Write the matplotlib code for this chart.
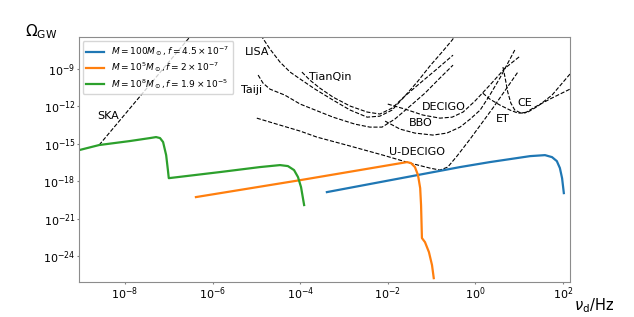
import numpy as np
import matplotlib
matplotlib.use("Agg")
import matplotlib.pyplot as plt
from matplotlib.ticker import NullLocator

# all curves stored as log10(frequency / Hz), log10(Omega_GW)

# PBH signals
green_lf = [-9.05, -8.59, -7.89, -7.43, -7.29, -7.20, -7.13, -7.06, -7.02, -7.00,
            -5.83, -4.92, -4.46, -4.28, -4.14, -4.05, -3.98, -3.91]
green_lo = [-15.51, -15.10, -14.78, -14.54, -14.46, -14.54, -14.86, -15.91, -17.11, -17.76,
            -17.27, -16.87, -16.71, -16.79, -17.11, -17.67, -18.48, -19.92]

orange_lf = [-6.38, -4.00, -1.56, -1.47, -1.38, -1.31, -1.26, -1.24, -1.22, -1.15,
             -1.06, -0.99, -0.95]
orange_lo = [-19.28, -17.92, -16.47, -16.55, -16.87, -17.51, -18.56, -19.92, -22.57, -22.90,
             -23.70, -24.74, -25.79]

blue_lf = [-3.39, -0.35, 0.33, 1.25, 1.59, 1.75, 1.86, 1.93, 1.98, 2.02]
blue_lo = [-18.88, -16.87, -16.47, -15.99, -15.91, -16.07, -16.39, -16.95, -17.76, -18.96]

labels = [r'$M=100M_\odot, f=4.5\times10^{-7}$',
          r'$M=10^5M_\odot, f=2\times10^{-7}$',
          r'$M=10^8M_\odot, f=1.9\times10^{-5}$']

# detector sensitivity curves
ska_lf = [-8.59, -6.30]
ska_lo = [-15.10, -5.50]

lisa_lf = [-4.96, -4.87, -4.69, -4.46, -4.23, -4.00, -3.66, -3.25, -2.86, -2.47,
           -2.18, -1.90, -1.61, -1.31, -1.04, -0.76, -0.53, -0.42]
lisa_lo = [-5.87, -6.43, -7.39, -8.44, -9.24, -9.80, -10.61, -11.49, -12.29, -12.86,
           -12.78, -12.29, -11.17, -9.96, -8.76, -7.63, -6.67, -6.11]

tianqin_lf = [-3.96, -3.78, -3.55, -3.25, -2.86, -2.47, -2.18, -1.90, -1.61, -1.26, -0.88, -0.51]
tianqin_lo = [-9.24, -9.88, -10.53, -11.25, -11.97, -12.45, -12.61, -12.13, -11.17, -10.12, -9.00, -7.88]

taiji_lf = [-4.96, -4.85, -4.69, -4.35, -4.00, -3.25, -2.75, -2.41, -2.13, -1.84,
            -1.49, -1.15, -0.81, -0.51]
taiji_lo = [-9.48, -10.12, -10.61, -11.09, -11.81, -12.86, -13.42, -13.66, -13.66, -13.02,
            -11.97, -10.93, -9.72, -8.68]

udecigo_lf = [-4.99, -4.46, -4.00, -3.62, -2.86, -2.11, -1.49, -1.04, -0.81, -0.63,
              -0.42, -0.12, 0.40, 0.97]
udecigo_lo = [-12.94, -13.50, -13.98, -14.46, -15.18, -15.91, -16.55, -16.95, -17.11, -16.87,
              -15.99, -14.62, -12.13, -9.24]

decigo_lf = [-2.00, -1.61, -1.20, -0.81, -0.53, -0.28, -0.01, 0.33, 0.68, 1.02]
decigo_lo = [-11.81, -12.21, -12.69, -12.94, -12.86, -12.45, -11.57, -10.29, -8.92, -7.96]

bbo_lf = [-2.06, -1.72, -1.38, -0.97, -0.65, -0.35, -0.12, 0.11, 0.33, 0.56, 0.90]
bbo_lo = [-13.18, -13.82, -14.14, -14.30, -14.14, -13.66, -13.02, -12.29, -11.09, -9.72, -7.47]

et_lf = [0.17, 0.33, 0.56, 0.79, 0.97, 1.13, 1.36, 1.70, 2.16]
et_lo = [-10.93, -11.41, -11.89, -12.29, -12.53, -12.53, -12.05, -11.41, -10.61]

ce_lf = [0.63, 0.68, 0.74, 0.81, 0.90, 1.04, 1.20, 1.43, 1.75, 2.16]
ce_lo = [-8.84, -9.72, -10.85, -11.73, -12.29, -12.53, -12.45, -11.97, -11.09, -9.40]

detectors = [(ska_lf, ska_lo), (lisa_lf, lisa_lo), (tianqin_lf, tianqin_lo),
             (taiji_lf, taiji_lo), (udecigo_lf, udecigo_lo), (decigo_lf, decigo_lo),
             (bbo_lf, bbo_lo), (et_lf, et_lo), (ce_lf, ce_lo)]

# detector names with label position (log10 f, log10 Omega)
det_names = ['SKA', 'LISA', 'Taiji', 'TianQin', 'DECIGO', 'BBO', 'ET', 'CE', 'U-DECIGO']
name_lf = [-8.39, -4.99, -5.10, -3.32, -0.72, -1.24, 0.63, 1.13, -1.33]
name_lo = [-12.78, -7.63, -10.69, -9.64, -12.05, -13.34, -13.02, -11.73, -15.67]


fig = plt.figure(figsize=(6.34, 3.17), dpi=100)
ax = fig.add_axes([0.1246, 0.110, 0.7744, 0.773])

for lf, lo in detectors:
    ax.plot(10**np.array(lf), 10**np.array(lo), '--', color='black', lw=0.8)

ax.plot(10**np.array(blue_lf), 10**np.array(blue_lo), color='tab:blue', lw=1.6, label=labels[0])
ax.plot(10**np.array(orange_lf), 10**np.array(orange_lo), color='tab:orange', lw=1.6, label=labels[1])
ax.plot(10**np.array(green_lf), 10**np.array(green_lo), color='tab:green', lw=1.6, label=labels[2])

for name, lf, lo in zip(det_names, name_lf, name_lo):
    ax.text(10**lf, 10**lo, name, fontsize=8, ha='center', va='center')

ax.set_xscale('log')
ax.set_yscale('log')
ax.set_xlim(10**-9.05, 10**2.16)
ax.set_ylim(10**-26.11, 10**-6.43)
ax.set_xticks([1e-8, 1e-6, 1e-4, 1e-2, 1e0, 1e2])
ax.set_yticks([1e-24, 1e-21, 1e-18, 1e-15, 1e-12, 1e-9])
ax.xaxis.set_minor_locator(NullLocator())
ax.yaxis.set_minor_locator(NullLocator())
ax.tick_params(labelsize=8, length=1.5, pad=1.0, color='0.5')
for sp in ax.spines.values():
    sp.set_color('0.55')

ax.legend(loc='upper left', fontsize=6.5, handlelength=2.0, labelspacing=0.25,
          borderaxespad=0.4)

fig.text(0.065, 0.90, r'$\Omega_{\rm GW}$', fontsize=11, ha='center', va='center')
fig.text(0.905, 0.005, r'$\nu_{\rm d}/{\rm Hz}$', fontsize=10.5, ha='left', va='bottom')

fig.savefig('out.png', dpi=100)
